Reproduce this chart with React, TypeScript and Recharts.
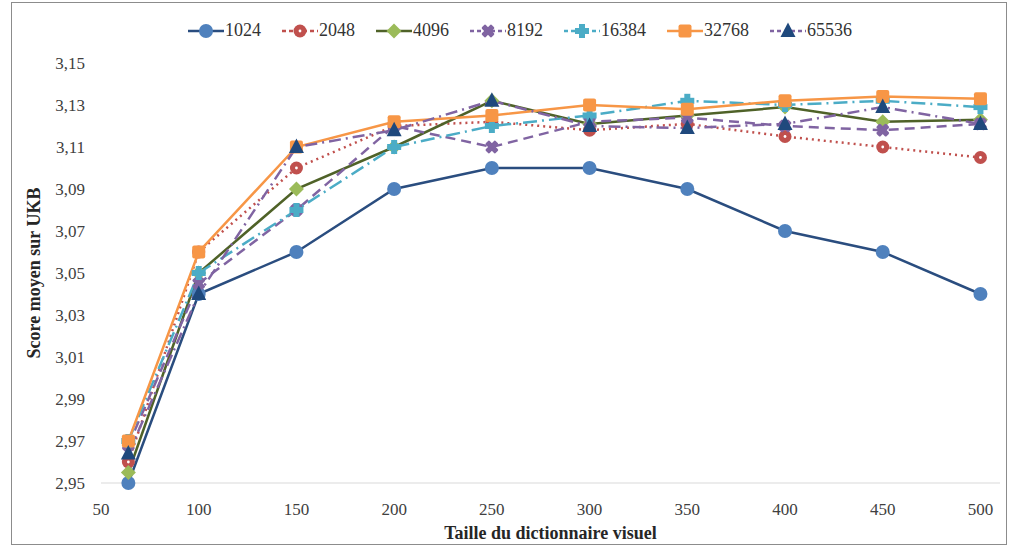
import React from "react";
import { LineChart, Line, XAxis, YAxis } from "recharts";

const sizes = [64, 100, 150, 200, 250, 300, 350, 400, 450, 500];
const s1024 = [2.95, 3.04, 3.06, 3.09, 3.1, 3.1, 3.09, 3.07, 3.06, 3.04];
const s2048 = [2.96, 3.06, 3.1, 3.12, 3.122, 3.118, 3.121, 3.115, 3.11, 3.105];
const s4096 = [2.955, 3.05, 3.09, 3.11, 3.132, 3.121, 3.125, 3.129, 3.122, 3.123];
const s8192 = [2.968, 3.045, 3.08, 3.12, 3.11, 3.122, 3.124, 3.12, 3.118, 3.121];
const s16384 = [2.97, 3.05, 3.08, 3.11, 3.12, 3.125, 3.132, 3.13, 3.132, 3.129];
const s32768 = [2.97, 3.06, 3.11, 3.122, 3.125, 3.13, 3.128, 3.132, 3.134, 3.133];
const s65536 = [2.964, 3.04, 3.11, 3.118, 3.132, 3.12, 3.119, 3.121, 3.129, 3.121];

const seriesNames = ["1024", "2048", "4096", "8192", "16384", "32768", "65536"];
const seriesValues = [s1024, s2048, s4096, s8192, s16384, s32768, s65536];

const xTicks = [50, 100, 150, 200, 250, 300, 350, 400, 450, 500];
const yTicks = [2.95, 2.97, 2.99, 3.01, 3.03, 3.05, 3.07, 3.09, 3.11, 3.13, 3.15];

type Shape = "circle" | "circleDot" | "diamond" | "xcross" | "plus" | "square" | "triangle";

const styles: { stroke: string; dash?: string; fill: string; shape: Shape }[] = [
  { stroke: "#2A4D7F", fill: "#4F81BD", shape: "circle" },
  { stroke: "#C0504D", dash: "2 4", fill: "#C0504D", shape: "circleDot" },
  { stroke: "#4F6228", fill: "#9BBB59", shape: "diamond" },
  { stroke: "#8064A2", dash: "10 6", fill: "#8064A2", shape: "xcross" },
  { stroke: "#4BACC6", dash: "14 5 2 5", fill: "#4BACC6", shape: "plus" },
  { stroke: "#F79646", fill: "#F79646", shape: "square" },
  { stroke: "#8064A2", dash: "12 5 2 5", fill: "#1F497D", shape: "triangle" },
];

const FONT = '"Liberation Serif", "Times New Roman", serif';

const data = sizes.map((x, i) => {
  const row: Record<string, number> = { x };
  seriesNames.forEach((n, k) => {
    row[n] = seriesValues[k][i];
  });
  return row;
});

function Marker({ shape, fill, cx, cy }: { shape: Shape; fill: string; cx: number; cy: number }) {
  switch (shape) {
    case "circle":
      return <circle cx={cx} cy={cy} r={7} fill={fill} />;
    case "circleDot":
      return (
        <g>
          <circle cx={cx} cy={cy} r={6.5} fill={fill} />
          <circle cx={cx} cy={cy} r={1.4} fill="#fff" />
        </g>
      );
    case "diamond":
      return (
        <polygon
          points={`${cx},${cy - 7.5} ${cx + 7.5},${cy} ${cx},${cy + 7.5} ${cx - 7.5},${cy}`}
          fill={fill}
        />
      );
    case "xcross":
      return (
        <g fill={fill}>
          <rect x={cx - 7} y={cy - 2.8} width={14} height={5.6} transform={`rotate(45 ${cx} ${cy})`} rx={1.5} />
          <rect x={cx - 7} y={cy - 2.8} width={14} height={5.6} transform={`rotate(-45 ${cx} ${cy})`} rx={1.5} />
        </g>
      );
    case "plus":
      return (
        <g fill={fill}>
          <rect x={cx - 7} y={cy - 3} width={14} height={6} />
          <rect x={cx - 3} y={cy - 7} width={6} height={14} />
        </g>
      );
    case "square":
      return <rect x={cx - 6.5} y={cy - 6.5} width={13} height={13} rx={2} fill={fill} />;
    case "triangle":
      return (
        <polygon
          points={`${cx},${cy - 8.5} ${cx + 7.5},${cy + 6} ${cx - 7.5},${cy + 6}`}
          fill={fill}
        />
      );
  }
  return null;
}

function makeDot(k: number) {
  return (props: { cx?: number; cy?: number; index?: number }) => {
    const { cx, cy, index } = props;
    if (cx == null || cy == null) return <g key={`d-${k}-${index}`} />;
    return (
      <g key={`d-${k}-${index}`}>
        <Marker shape={styles[k].shape} fill={styles[k].fill} cx={cx} cy={cy} />
      </g>
    );
  };
}

function LegendRow() {
  return (
    <div
      style={{
        position: "absolute",
        top: 20,
        left: 188,
        display: "flex",
        alignItems: "center",
        fontFamily: FONT,
        fontSize: 18,
        color: "#333",
      }}
    >
      {seriesNames.map((n, k) => (
        <div key={n} style={{ display: "flex", alignItems: "center", marginRight: 21 }}>
          <svg width={36} height={20} style={{ marginRight: 1 }}>
            <line
              x1={0}
              y1={10}
              x2={36}
              y2={10}
              stroke={styles[k].stroke}
              strokeWidth={2.5}
              strokeDasharray={styles[k].dash ? "4 3" : undefined}
            />
            <Marker shape={styles[k].shape} fill={styles[k].fill} cx={18} cy={10} />
          </svg>
          <span>{n}</span>
        </div>
      ))}
    </div>
  );
}

export default function App() {
  return (
    <div
      style={{
        position: "absolute",
        left: 0,
        top: 0,
        width: 1019,
        height: 551,
        background: "#fff",
        fontFamily: FONT,
      }}
    >
      <div
        style={{
          position: "absolute",
          left: 11,
          top: 2,
          width: 996,
          height: 543,
          border: "1px solid #8c8c8c",
          boxSizing: "border-box",
        }}
      />
      <LegendRow />
      <div style={{ position: "absolute", left: 0, top: 0 }}>
        <LineChart
          width={1019}
          height={551}
          data={data}
          margin={{ top: 63, right: 19, left: 0, bottom: 0 }}
        >
          <XAxis
            dataKey="x"
            type="number"
            domain={[50, 510]}
            ticks={xTicks}
            allowDataOverflow
            height={68}
            tickLine={false}
            axisLine={{ stroke: "#d9d9d9", strokeWidth: 1 }}
            tick={{ fontSize: 17, fill: "#404040", fontFamily: FONT }}
            tickMargin={14}
            label={{
              value: "Taille du dictionnaire visuel",
              position: "insideBottom",
              offset: 12,
              style: { fontSize: 18, fontWeight: 700, fill: "#262626", fontFamily: FONT },
            }}
          />
          <YAxis
            type="number"
            domain={[2.95, 3.15]}
            ticks={yTicks}
            width={101}
            axisLine={false}
            tickLine={false}
            tickSize={0}
            tickMargin={16}
            tick={{ fontSize: 17, fill: "#404040", fontFamily: FONT }}
            tickFormatter={(v: number) => v.toFixed(2).replace(".", ",")}
            label={{
              value: "Score moyen sur UKB",
              angle: -90,
              position: "insideLeft",
              offset: 34,
              style: { fontSize: 18, fontWeight: 700, fill: "#262626", fontFamily: FONT, textAnchor: "middle" },
            }}
          />
          {seriesNames.map((n, k) => (
            <Line
              key={n}
              dataKey={n}
              type="linear"
              stroke={styles[k].stroke}
              strokeWidth={2.5}
              strokeDasharray={styles[k].dash}
              dot={makeDot(k)}
              activeDot={false}
              isAnimationActive={false}
            />
          ))}
        </LineChart>
      </div>
    </div>
  );
}
